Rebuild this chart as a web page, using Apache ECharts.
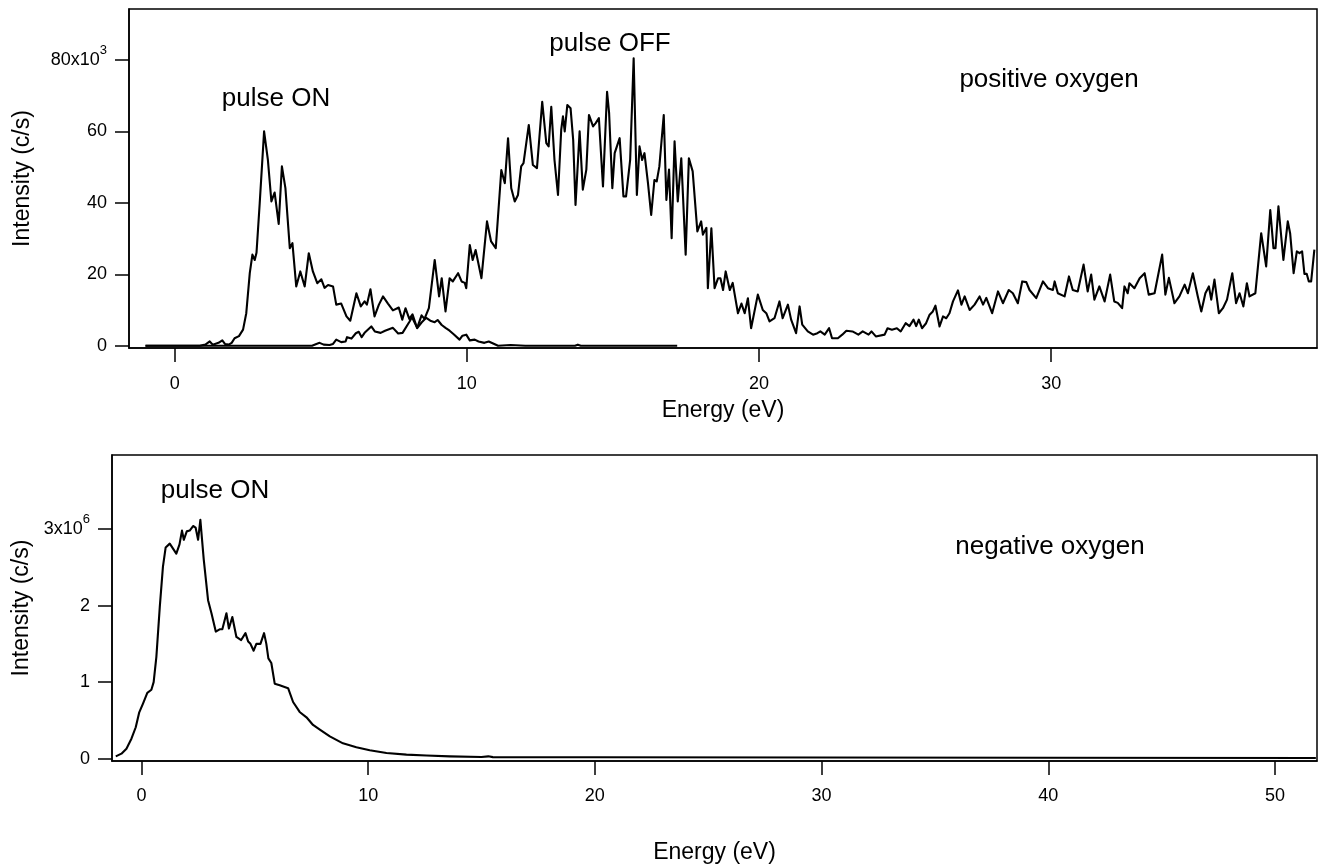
<!DOCTYPE html>
<html><head><meta charset="utf-8">
<script src="https://cdn.jsdelivr.net/npm/echarts@6/dist/echarts.min.js"></script>
<style>html,body{margin:0;padding:0;background:#fff}#c{width:1320px;height:866px}</style>
</head><body><div id="c"></div>
<script>
// ---- positive oxygen, pulse ON (energy eV, intensity x10^3 c/s)
const posOnE = [-1.0,0.86,1.05,1.2,1.3,1.5,1.63,1.72,1.85,1.95,2.05,2.2,2.34,2.45,2.57,2.66,2.74,2.8,2.91,3.06,3.19,3.31,3.42,3.56,3.67,3.79,3.94,4.03,4.16,4.30,4.45,4.59,4.73,4.88,5.02,5.13,5.25,5.42,5.53,5.70,5.88,6.01,6.22,6.37,6.5,6.58,6.7,6.84,6.99,7.13,7.3,7.47,7.67,7.79,7.9,8.03,8.14,8.3,8.45,8.61,8.75,8.9,9.0,9.14,9.27,9.41,9.55,9.75,9.85,9.98,10.1,10.27,10.4,10.6,10.75,11.07,11.5,12.0,13.7,13.8,13.9,17.2];
const posOnI = [0,0,0.3,1.2,0.3,0.8,1.5,0.5,0.3,0.8,2.1,2.7,4.5,9.1,20.3,25.5,24,26,39.9,60,52,40.4,42.9,34.1,50.2,44.1,27.3,28.7,16.6,20.8,16.6,25.9,20.8,17.5,18.6,16.2,17.0,16.6,11.5,11.8,8.2,7.0,14.7,11.0,12.4,11.5,15.8,8.2,11.5,13.8,11.8,9.9,10.7,7.3,10.5,7.5,8.8,4.9,6.5,7.8,7.0,6.6,7.2,5.8,5.0,4.2,3.2,1.7,2.8,3.1,1.5,1.7,1.2,0.8,1.2,0,0.2,0,0,0.3,0,0];
// ---- positive oxygen, pulse OFF
const posOffE = [-1.0,4.7,4.85,4.96,5.1,5.3,5.42,5.53,5.7,5.85,5.9,6.05,6.2,6.3,6.4,6.5,6.73,6.85,7.05,7.2,7.47,7.65,7.8,8.04,8.12,8.3,8.45,8.55,8.7,8.9,9.05,9.14,9.27,9.41,9.52,9.7,9.82,9.93,9.98,10.1,10.2,10.3,10.5,10.69,10.83,10.99,11.18,11.3,11.41,11.52,11.64,11.75,11.86,11.94,12.12,12.26,12.4,12.58,12.72,12.8,12.89,13.0,13.12,13.23,13.29,13.35,13.44,13.55,13.64,13.72,13.86,13.97,14.09,14.18,14.32,14.41,14.52,14.66,14.8,14.87,14.98,15.06,15.23,15.36,15.45,15.59,15.71,15.82,15.91,16.0,16.08,16.2,16.31,16.42,16.5,16.59,16.74,16.83,16.92,17.01,17.11,17.22,17.34,17.49,17.6,17.73,17.79,17.89,18.02,18.08,18.2,18.25,18.37,18.48,18.6,18.68,18.77,18.86,19.0,19.1,19.28,19.4,19.51,19.62,19.73,19.96,20.13,20.25,20.36,20.53,20.7,20.81,20.99,21.1,21.27,21.39,21.48,21.67,21.85,22.0,22.1,22.25,22.4,22.5,22.7,22.85,22.99,23.2,23.4,23.55,23.75,23.85,24.0,24.3,24.4,24.55,24.72,24.85,25.02,25.15,25.29,25.38,25.47,25.58,25.72,25.84,25.95,26.04,26.18,26.3,26.41,26.52,26.64,26.81,26.93,27.04,27.21,27.38,27.55,27.67,27.78,27.98,28.18,28.35,28.55,28.69,28.86,29.01,29.15,29.26,29.49,29.72,29.89,30.06,30.12,30.23,30.46,30.61,30.74,30.91,31.11,31.25,31.37,31.48,31.65,31.83,32.02,32.16,32.28,32.43,32.51,32.62,32.68,32.85,33.03,33.2,33.34,33.54,33.8,33.91,34.03,34.22,34.39,34.57,34.68,34.85,35.02,35.14,35.28,35.4,35.48,35.59,35.74,35.88,36.02,36.2,36.33,36.45,36.58,36.7,36.79,36.99,37.19,37.25,37.36,37.5,37.61,37.68,37.78,37.95,38.1,38.18,38.3,38.41,38.5,38.59,38.67,38.75,38.82,38.9,39.01];
const posOffI = [0,0,0.5,0.8,0.3,0.2,0.5,1.7,1.0,1.2,2.4,2.0,3.5,3.9,2.4,3.6,5.4,4.0,3.6,4.2,5.0,3.4,3.6,6.8,8.0,5.0,8.5,7.5,10.5,24,13.8,18.9,9.6,18.9,18.0,20.3,18.0,17.6,16.1,28.2,24.0,26.8,18.9,34.8,29.2,27.3,49.2,45.5,58.1,44.1,40.4,42.2,50.2,51.1,61.8,50.6,49.7,68.3,56.7,55.8,66.9,52.0,42.2,60.4,64.2,60,67.4,66.5,57.6,39.4,60.0,43.7,49.3,64.6,61.4,62.3,63.7,44.6,71.1,65.1,44.1,53.9,58.1,41.8,41.8,52.0,80.5,42.2,55.8,52.0,53.9,45.5,36.6,46.4,46.0,50.2,64.6,40.8,49.3,30.1,57.2,40.4,52.5,25.5,52.5,48.8,49.3,32.0,34.8,31.1,33.0,16.1,32.9,16.1,18.9,18.9,15.6,20.8,15.6,17.6,9.1,11.8,9.1,13.3,4.9,14.3,10.0,9.1,6.8,7.7,12.4,7.7,11.5,7.3,3.5,11.0,5.9,4.0,3.1,3.5,4.0,3.1,4.9,2.1,2.1,3.1,4.2,4.0,3.1,4.0,3.1,4.0,2.6,3.1,4.9,4.5,4.9,4.0,6.3,5.5,7.3,5.5,7.3,4.9,6.3,8.7,9.6,11.2,5.4,8.2,7.7,9.1,12.4,15.5,11.5,13.8,10.0,11.5,13.8,11.5,13.4,9.1,15.2,11.9,15.6,14.7,11.9,18.0,17.8,15.6,13.3,18.0,16.1,15.6,18.0,14.7,13.8,19.4,15.6,15.2,22.7,15.2,19.9,12.9,16.6,12.4,19.9,12.4,12.0,10.5,16.6,14.7,17.5,16.1,18.9,20.3,14.3,14.7,25.5,14.3,19.0,11.9,13.8,17.1,14.7,20.3,13.8,9.6,14.7,16.6,12.9,18.5,9.1,10.5,12.9,20.3,11.9,14.7,11.0,17.5,13.8,14.7,31.5,31.1,22.2,38.0,27.3,27.3,39.0,24.0,34.8,31.5,20.3,26.4,25.9,26.4,20.1,20.1,18.0,18.0,26.9];
// ---- negative oxygen, pulse ON (energy eV, intensity x10^6 c/s)
const negOnE = [-1.13,-0.88,-0.66,-0.44,-0.25,-0.1,0.07,0.26,0.44,0.54,0.66,0.81,0.95,1.07,1.25,1.54,1.68,1.79,1.87,2.0,2.13,2.28,2.39,2.5,2.6,2.75,2.94,3.09,3.28,3.45,3.57,3.75,3.86,4.01,4.19,4.4,4.59,4.71,4.81,4.95,5.07,5.25,5.41,5.51,5.6,5.73,5.88,6.1,6.47,6.69,6.98,7.28,7.57,7.87,8.31,8.89,9.48,10.07,10.81,11.69,12.57,13.6,15.0,15.3,15.5,20,30,40,51.8];
const negOnI = [0.03,0.065,0.13,0.26,0.41,0.6,0.72,0.86,0.9,1.0,1.33,1.98,2.51,2.76,2.81,2.68,2.8,2.98,2.86,2.97,2.98,3.04,3.02,2.86,3.12,2.6,2.07,1.9,1.66,1.69,1.69,1.9,1.7,1.85,1.59,1.55,1.64,1.53,1.5,1.41,1.5,1.5,1.64,1.5,1.31,1.25,0.98,0.96,0.92,0.74,0.61,0.54,0.44,0.38,0.29,0.2,0.15,0.11,0.074,0.052,0.04,0.03,0.022,0.03,0.02,0.018,0.015,0.012,0.008];
// ---- ticks
const topXTicks = [0,10,20,30];
const topYTicks = [0,20,40,60,80];
const botXTicks = [0,10,20,30,40,50];
const botYTicks = [0,1,2,3];

const zip = (a,b) => a.map((v,i)=>[v,b[i]]);
const FONT = '"Liberation Sans", Arial, Helvetica, sans-serif';
const BLK = '#000';
const tickFont = {color:BLK, fontSize:18, fontFamily:FONT};
const richSup = {
  b:{fontSize:18, fontFamily:FONT, color:BLK, verticalAlign:'bottom', lineHeight:18},
  s:{fontSize:13, fontFamily:FONT, color:BLK, verticalAlign:'bottom', lineHeight:13, padding:[0,0,12,0]}
};
function mkX(gi, min, max, ticks, gap, margin){
  return {type:'value', gridIndex:gi, min, max,
    axisLine:{show:true, onZero:false, lineStyle:{color:BLK, width:1.5}},
    axisTick:{show:true, length:14, customValues:ticks, lineStyle:{color:BLK, width:1.5}},
    axisLabel:Object.assign({customValues:ticks, margin}, tickFont),
    splitLine:{show:false},
    name:'Energy (eV)', nameLocation:'middle', nameGap:gap,
    nameTextStyle:{color:BLK, fontSize:23, fontFamily:FONT}};
}
function mkY(gi, min, max, ticks, gap, topTick, base, exp){
  return {type:'value', gridIndex:gi, min, max,
    axisLine:{show:true, onZero:false, lineStyle:{color:BLK, width:1.5}},
    axisTick:{show:true, length:14, customValues:ticks, lineStyle:{color:BLK, width:1.5}},
    axisLabel:Object.assign({customValues:ticks, margin:22, rich:richSup,
      formatter:v => v===topTick ? '{b|'+base+'}{s|'+exp+'}' : String(v)}, tickFont),
    splitLine:{show:false},
    name:'Intensity (c/s)', nameLocation:'middle', nameGap:gap,
    nameTextStyle:{color:BLK, fontSize:23, fontFamily:FONT}};
}
const lineStyle = {color:BLK, width:2.1, join:'round'};
function mkSeries(data, xi, yi){
  return {type:'line', data, xAxisIndex:xi, yAxisIndex:yi, showSymbol:false, symbol:'none',
    lineStyle, itemStyle:{color:BLK}, silent:true, z:3};
}
function txt(text, x, y){
  return {type:'text', x, y, silent:true, z:10,
    style:{text, fill:BLK, fontSize:26, fontFamily:FONT,
      align:'center', verticalAlign:'middle', textAlign:'center', textVerticalAlign:'middle'}};
}
const chart = echarts.init(document.getElementById('c'), null, {renderer:'canvas'});
chart.setOption({
  animation:false,
  backgroundColor:'#fff',
  grid:[
    {left:129, top:9, width:1188, height:339, show:true, borderColor:BLK, borderWidth:1.5, containLabel:false},
    {left:112, top:455, width:1205, height:306, show:true, borderColor:BLK, borderWidth:1.5, containLabel:false}
  ],
  xAxis:[ mkX(0, -1.564, 39.1, topXTicks, 51, 27), mkX(1, -1.297, 51.85, botXTicks, 80, 26) ],
  yAxis:[ mkY(0, -0.64, 94.27, topYTicks, 95, 80, '80x10', '3'), mkY(1, -0.031, 3.968, botYTicks, 78, 3, '3x10', '6') ],
  series:[
    mkSeries(zip(posOnE, posOnI), 0, 0),
    mkSeries(zip(posOffE, posOffI), 0, 0),
    mkSeries(zip(negOnE, negOnI), 1, 1)
  ],
  graphic:[
    txt('pulse ON', 276, 99),
    txt('pulse OFF', 610, 44),
    txt('positive oxygen', 1049, 80),
    txt('pulse ON', 215, 491),
    txt('negative oxygen', 1050, 547)
  ]
});
</script></body></html>
